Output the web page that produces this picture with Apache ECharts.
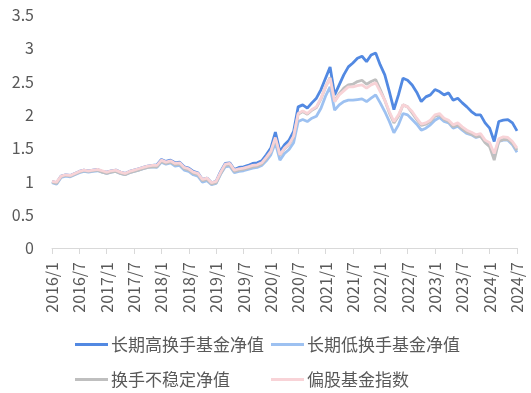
<!DOCTYPE html>
<html><head><meta charset="utf-8">
<script src="https://cdn.jsdelivr.net/npm/echarts@6/dist/echarts.min.js"></script>
<style>html,body{margin:0;padding:0;background:#fff}#c{width:531px;height:393px}</style>
</head><body><div id="c"></div>
<script>
// Monthly categories 2016/1 .. 2024/7
const months = [];
for (let y = 2016; y <= 2024; y++) for (let m = 1; m <= 12; m++) { if (y === 2024 && m > 7) break; months.push(y + '/' + m); }

const seriesNames = ['长期高换手基金净值', '长期低换手基金净值', '换手不稳定净值', '偏股基金指数'];

const highTurnover = [
  1.00, 0.98, 1.08, 1.10, 1.09, 1.12, 1.15, 1.17, 1.16, 1.17, 1.18, 1.15,
  1.14, 1.16, 1.17, 1.14, 1.12, 1.15, 1.17, 1.19, 1.21, 1.23, 1.24, 1.25,
  1.33, 1.30, 1.32, 1.28, 1.29, 1.22, 1.20, 1.15, 1.13, 1.03, 1.05, 0.98,
  1.00, 1.15, 1.27, 1.28, 1.18, 1.21, 1.22, 1.24, 1.27, 1.28, 1.31, 1.40,
  1.50, 1.74, 1.45, 1.55, 1.62, 1.75, 2.12, 2.15, 2.10, 2.18, 2.25, 2.38,
  2.55, 2.72, 2.30, 2.45, 2.60, 2.72, 2.78, 2.85, 2.88, 2.80, 2.90, 2.93,
  2.75, 2.60, 2.35, 2.08, 2.30, 2.55, 2.52, 2.45, 2.34, 2.20, 2.27, 2.30,
  2.38, 2.35, 2.30, 2.33, 2.22, 2.25, 2.18, 2.12, 2.05, 2.00, 2.00, 1.88,
  1.80, 1.60, 1.90, 1.92, 1.93, 1.88, 1.76
];
const lowTurnover = [
  0.98, 0.96, 1.06, 1.08, 1.07, 1.10, 1.13, 1.15, 1.14, 1.15, 1.16, 1.14,
  1.12, 1.14, 1.15, 1.12, 1.10, 1.13, 1.15, 1.17, 1.19, 1.21, 1.22, 1.21,
  1.29, 1.26, 1.28, 1.23, 1.24, 1.17, 1.15, 1.10, 1.08, 0.99, 1.01, 0.95,
  0.97, 1.11, 1.22, 1.23, 1.13, 1.15, 1.16, 1.18, 1.20, 1.21, 1.24, 1.31,
  1.40, 1.58, 1.32, 1.42, 1.48, 1.58, 1.90, 1.93, 1.90, 1.95, 1.98, 2.10,
  2.28, 2.42, 2.07, 2.15, 2.20, 2.22, 2.22, 2.23, 2.24, 2.20, 2.25, 2.30,
  2.18, 2.05, 1.90, 1.73, 1.85, 2.02, 2.00, 1.93, 1.86, 1.77, 1.80, 1.85,
  1.92, 1.96, 1.90, 1.88, 1.80, 1.83, 1.77, 1.72, 1.70, 1.66, 1.68, 1.60,
  1.55, 1.40, 1.60, 1.62, 1.62, 1.55, 1.44
];
const unstableTurnover = [
  0.99, 0.97, 1.07, 1.09, 1.08, 1.11, 1.14, 1.16, 1.15, 1.16, 1.17, 1.14,
  1.12, 1.14, 1.15, 1.12, 1.10, 1.13, 1.15, 1.17, 1.19, 1.21, 1.22, 1.22,
  1.30, 1.27, 1.29, 1.25, 1.26, 1.19, 1.17, 1.12, 1.10, 1.01, 1.03, 0.96,
  0.98, 1.12, 1.24, 1.25, 1.15, 1.17, 1.18, 1.20, 1.22, 1.23, 1.26, 1.34,
  1.44, 1.64, 1.39, 1.49, 1.55, 1.67, 2.01, 2.05, 2.01, 2.07, 2.11, 2.24,
  2.42, 2.56, 2.20, 2.32, 2.40, 2.45, 2.46, 2.50, 2.52, 2.46, 2.50, 2.53,
  2.38, 2.22, 2.03, 1.88, 1.98, 2.15, 2.12, 2.03, 1.93, 1.84, 1.86, 1.90,
  1.98, 2.00, 1.93, 1.90, 1.82, 1.85, 1.79, 1.74, 1.71, 1.67, 1.68, 1.58,
  1.52, 1.32, 1.60, 1.63, 1.63, 1.57, 1.47
];
const equityFundIndex = [
  1.00, 0.99, 1.08, 1.10, 1.09, 1.12, 1.15, 1.17, 1.16, 1.17, 1.18, 1.16,
  1.14, 1.16, 1.17, 1.14, 1.12, 1.15, 1.17, 1.19, 1.21, 1.23, 1.24, 1.24,
  1.32, 1.29, 1.31, 1.27, 1.28, 1.21, 1.19, 1.14, 1.12, 1.03, 1.05, 0.98,
  1.00, 1.14, 1.26, 1.27, 1.17, 1.19, 1.20, 1.22, 1.24, 1.25, 1.28, 1.36,
  1.45, 1.66, 1.40, 1.50, 1.56, 1.68, 2.02, 2.06, 2.02, 2.08, 2.12, 2.25,
  2.42, 2.55, 2.20, 2.30, 2.36, 2.42, 2.42, 2.44, 2.45, 2.40, 2.45, 2.48,
  2.35, 2.22, 2.05, 1.90, 2.00, 2.15, 2.12, 2.05, 1.95, 1.86, 1.88, 1.92,
  2.00, 2.02, 1.95, 1.92, 1.85, 1.88, 1.82, 1.77, 1.74, 1.70, 1.72, 1.62,
  1.58, 1.42, 1.64, 1.67, 1.66, 1.60, 1.50
];

const colors = ['#5289E2', '#9DC1F1', '#BFBFBF', '#F8D3D7'];
const FONT = '"Noto Sans CJK SC", "Noto Sans", sans-serif';
const chart = echarts.init(document.getElementById('c'), null, {renderer: 'canvas'});
const mk = (i, d) => ({
  name: seriesNames[i], type: 'line', data: d, showSymbol: false, symbol: 'none',
  lineStyle: {color: colors[i], width: 2.8}, itemStyle: {color: colors[i]}, animation: false
});
const lg = (i, left, top) => ({
  data: [seriesNames[i]], orient: 'horizontal', left: left, top: top, padding: 0,
  icon: 'rect', itemWidth: 33, itemHeight: 3, itemStyle: {color: colors[i]},
  textStyle: {fontSize: 17, color: '#595959', fontFamily: FONT, padding: [0,0,0,-2]}
});
chart.setOption({
  animation: false,
  color: colors,
  grid: {left: 52, right: 14, top: 15, bottom: 145, containLabel: false},
  legend: [lg(0, 75, 336), lg(1, 271, 336), lg(2, 75, 371), lg(3, 271, 371)],
  xAxis: {
    type: 'category', data: months, boundaryGap: false,
    axisLine: {lineStyle: {color: '#D9D9D9', width: 1}},
    axisTick: {show: true, interval: 5, length: 6, lineStyle: {color: '#D9D9D9'}},
    axisLabel: {interval: 5, rotate: 90, fontSize: 16, color: '#595959', fontFamily: FONT, margin: 14}
  },
  yAxis: {
    type: 'value', min: 0, max: 3.5, interval: 0.5,
    axisLine: {show: false}, axisTick: {show: false}, splitLine: {show: false},
    axisLabel: {fontSize: 16, color: '#595959', fontFamily: FONT, margin: 18}
  },
  series: [mk(0, highTurnover), mk(1, lowTurnover), mk(2, unstableTurnover), mk(3, equityFundIndex)]
});
</script></body></html>
